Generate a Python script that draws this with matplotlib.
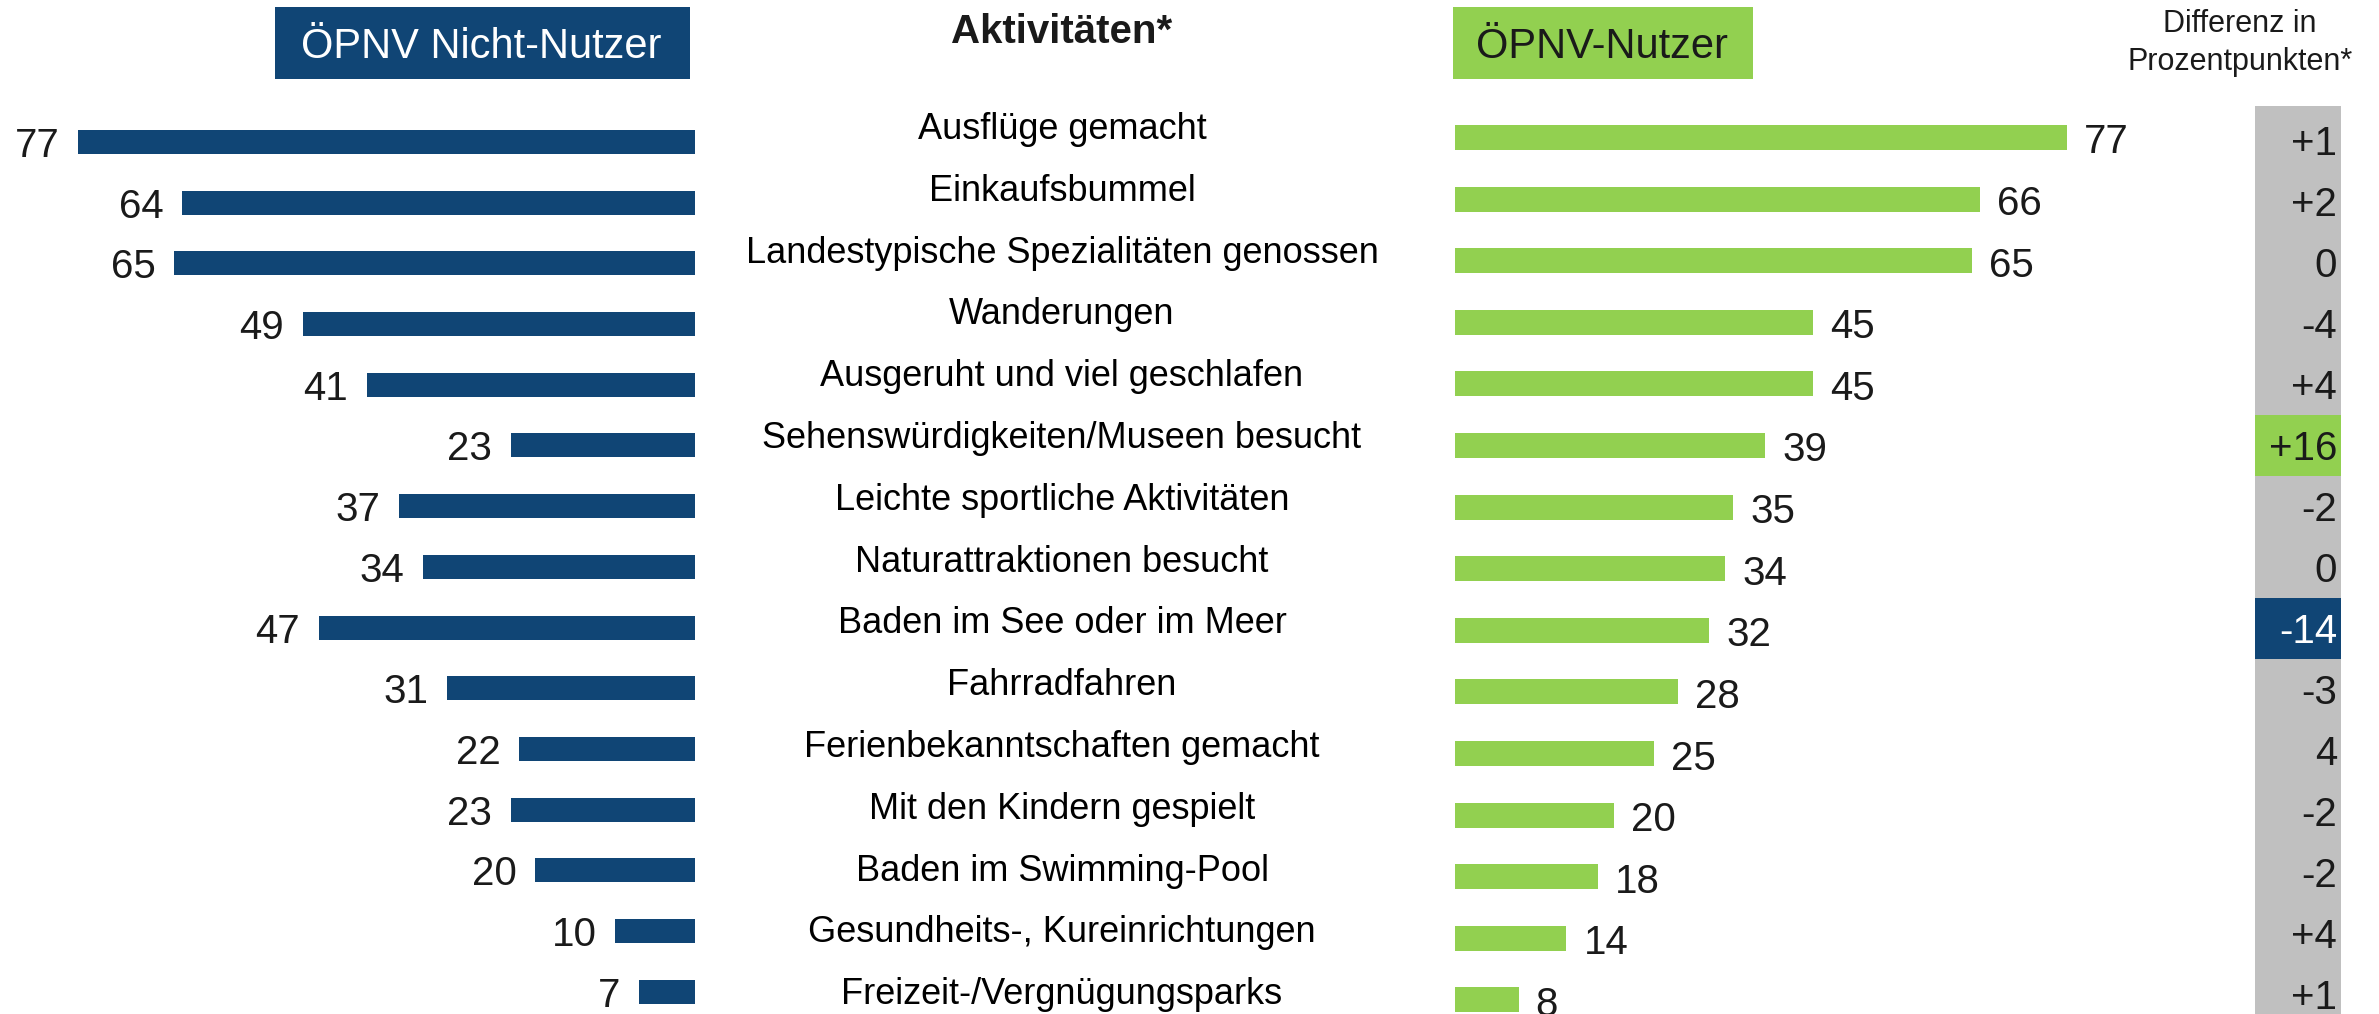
import numpy as np
import matplotlib.pyplot as plt
from matplotlib.patches import Rectangle

plt.rcParams['font.family'] = ['Liberation Sans', 'DejaVu Sans']

# daten
aktivitaeten = ['Ausflüge gemacht', 'Einkaufsbummel', 'Landestypische Spezialitäten genossen',
                'Wanderungen', 'Ausgeruht und viel geschlafen', 'Sehenswürdigkeiten/Museen besucht',
                'Leichte sportliche Aktivitäten', 'Naturattraktionen besucht',
                'Baden im See oder im Meer', 'Fahrradfahren', 'Ferienbekanntschaften gemacht',
                'Mit den Kindern gespielt', 'Baden im Swimming-Pool',
                'Gesundheits-, Kureinrichtungen', 'Freizeit-/Vergnügungsparks']
nicht_nutzer = [77, 64, 65, 49, 41, 23, 37, 34, 47, 31, 22, 23, 20, 10, 7]
nutzer = [77, 66, 65, 45, 45, 39, 35, 34, 32, 28, 25, 20, 18, 14, 8]
differenz = ['+1', '+2', '0', '-4', '+4', '+16', '-2', '0', '-14', '-3', '4', '-2', '-2', '+4', '+1']

BLUE = '#104575'
GREEN = '#92D050'
GRAY = '#C0C0C0'
TXT = '#1a1a1a'

W, H = 2379, 1014
fig = plt.figure(figsize=(W / 100, H / 100), dpi=100)

def px_box(x0, x1):
    return [x0 / W, 0, (x1 - x0) / W, 1]

def y_lim(first, step):
    # zeile i liegt bei first + i*step pixel von oben
    return ((H - first) / step, -first / step)

rows = np.arange(len(aktivitaeten))

# linke seite: nicht-nutzer
ax_l = fig.add_axes(px_box(0, 695))
ax_l.set_xlim(695 / 8.01, 0)
ax_l.set_ylim(*y_lim(142, 60.7))
ax_l.barh(rows, nicht_nutzer, height=24 / 60.7, color=BLUE)
for i, v in enumerate(nicht_nutzer):
    ax_l.text(v + 2.3, i + 15 / 60.7, str(v), ha='right', va='baseline', fontsize=29, color=TXT)
ax_l.axis('off')

# mitte: aktivitaeten
ax_c = fig.add_axes(px_box(695, 1455))
ax_c.set_xlim(0, 1)
ax_c.set_ylim(*y_lim(139, 61.8))
for i, s in enumerate(aktivitaeten):
    ax_c.text((1062 - 695) / 760, i, s, ha='center', va='baseline', fontsize=26, color='black')
ax_c.axis('off')

# rechte seite: nutzer
ax_r = fig.add_axes(px_box(1455, 2255))
ax_r.set_xlim(0, 800 / 7.95)
ax_r.set_ylim(*y_lim(137.5, 61.6))
ax_r.barh(rows, nutzer, height=25 / 61.6, color=GREEN)
for i, v in enumerate(nutzer):
    ax_r.text(v + 2.15, i + 16 / 61.6, str(v), ha='left', va='baseline', fontsize=29, color=TXT)
ax_r.axis('off')

# differenz-spalte
ax_d = fig.add_axes(px_box(2255, 2341))
ax_d.set_xlim(0, 1)
ax_d.set_ylim(*y_lim(140, 61))
werte = [int(d) for d in differenz]
farben = [GREEN if w >= 10 else BLUE if w <= -10 else GRAY for w in werte]
ax_d.axhspan(-0.5 - 4 / 61, 20, color=GRAY, lw=0)
ax_d.barh(rows, 1, height=1, color=farben, lw=0)
for i, d in enumerate(differenz):
    c = 'white' if farben[i] == BLUE else TXT
    ax_d.text(82 / 86, i + 15 / 61, d, ha='right', va='baseline', fontsize=29, color=c)
ax_d.axis('off')

# ueberschriften
fig.add_artist(Rectangle((275 / W, 1 - 79 / H), 415 / W, 72 / H, transform=fig.transFigure,
                         color=BLUE, lw=0))
fig.text(481 / W, 1 - 58 / H, 'ÖPNV Nicht-Nutzer', ha='center', va='baseline', fontsize=30, color='white')
fig.add_artist(Rectangle((1453 / W, 1 - 79 / H), 300 / W, 72 / H, transform=fig.transFigure,
                         color=GREEN, lw=0))
fig.text(1602 / W, 1 - 58 / H, 'ÖPNV-Nutzer', ha='center', va='baseline', fontsize=30, color=TXT)
fig.text(1062 / W, 1 - 43 / H, 'Aktivitäten*', ha='center', va='baseline', fontsize=29,
         fontweight='bold', color=TXT)
fig.text(2240 / W, 1 - 32 / H, 'Differenz in', ha='center', va='baseline', fontsize=22, color=TXT)
fig.text(2240 / W, 1 - 70 / H, 'Prozentpunkten*', ha='center', va='baseline', fontsize=22, color=TXT)

plt.savefig('out.png', dpi=100)
